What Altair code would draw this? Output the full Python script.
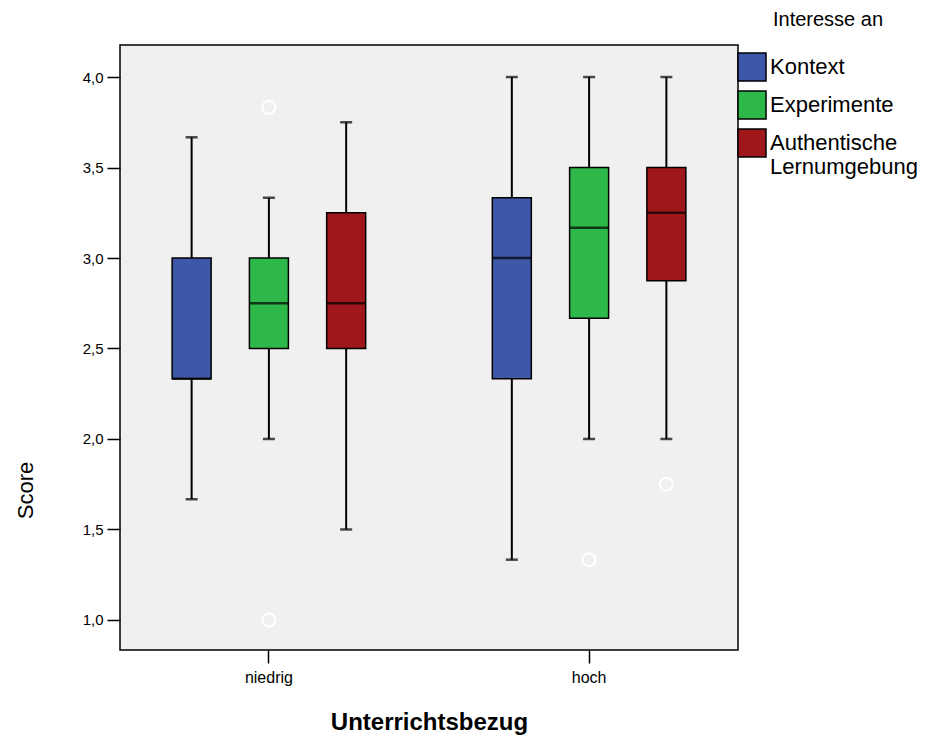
import altair as alt
import pandas as pd

groups = ["niedrig", "niedrig", "niedrig", "hoch", "hoch", "hoch"]
interest = ["Kontext", "Experimente", "Authentische Lernumgebung"] * 2
whisker_low = [1.667, 2.0, 1.5, 1.333, 2.0, 2.0]
q1 = [2.333, 2.5, 2.5, 2.333, 2.667, 2.875]
median = [2.333, 2.75, 2.75, 3.0, 3.167, 3.25]
q3 = [3.0, 3.0, 3.25, 3.333, 3.5, 3.5]
whisker_high = [3.667, 3.333, 3.75, 4.0, 4.0, 4.0]

out_groups = ["niedrig", "niedrig", "hoch", "hoch"]
out_interest = ["Experimente", "Experimente", "Experimente", "Authentische Lernumgebung"]
out_values = [3.833, 1.0, 1.333, 1.75]

group_order = ["niedrig", "hoch"]
interest_order = ["Kontext", "Experimente", "Authentische Lernumgebung"]
colors = ["#3D58A8", "#2FB84A", "#A0171B"]
y_ticks = [1.0, 1.5, 2.0, 2.5, 3.0, 3.5, 4.0]

df = pd.DataFrame({
    "Unterrichtsbezug": groups, "Interesse": interest,
    "lo": whisker_low, "q1": q1, "med": median, "q3": q3, "hi": whisker_high,
})
dfo = pd.DataFrame({"Unterrichtsbezug": out_groups, "Interesse": out_interest, "v": out_values})

FONT = "Liberation Sans"
W, H = 618, 605

x_enc = alt.X("Unterrichtsbezug:N", sort=group_order,
              scale=alt.Scale(paddingInner=0.07, paddingOuter=0),
              axis=alt.Axis(title="Unterrichtsbezug", labelAngle=0, labelFontSize=16,
                            labelFont=FONT, labelColor="black", labelPadding=6,
                            tickSize=13, tickWidth=1.5, tickColor="black",
                            domain=False, titleFont=FONT, titleFontSize=24,
                            titleFontWeight="bold", titleColor="black",
                            titleY=72, titleBaseline="middle"))
xo_enc = alt.XOffset("Interesse:N", sort=interest_order,
                     scale=alt.Scale(paddingInner=0, paddingOuter=0.427))
y_scale = alt.Scale(domain=[0.834, 4.177], nice=False, zero=False)
y_axis = alt.Axis(title="Score", values=y_ticks,
                  labelExpr="replace(format(datum.value, '.1f'), '.', ',')",
                  labelFontSize=15, labelFont=FONT, labelColor="black", labelPadding=4,
                  tickSize=13, tickWidth=1.5, tickColor="black", domain=False, grid=False,
                  titleFont=FONT, titleFontSize=22, titleFontWeight="normal",
                  titleColor="black", titleX=-95, titleY=445, titleAngle=270,
                  titleAlign="center", titleBaseline="middle")
color_enc = alt.Color("Interesse:N", sort=interest_order,
                      scale=alt.Scale(domain=interest_order, range=colors),
                      legend=alt.Legend(title="Interesse an", orient="none",
                                        legendX=617, legendY=-35,
                                        symbolType="square", symbolSize=784,
                                        symbolStrokeColor="black", symbolStrokeWidth=1.5,
                                        symbolOpacity=1,
                                        labelFont=FONT, labelFontSize=22, labelColor="black",
                                        labelExpr="datum.label == 'Authentische Lernumgebung' ? ['Authentische', 'Lernumgebung'] : datum.label",
                                        labelOffset=3, rowPadding=4, labelLimit=300,
                                        titleFont=FONT, titleFontSize=20,
                                        titleFontWeight="normal", titleColor="black",
                                        titlePadding=22, titleAnchor="middle"))

base = alt.Chart(df).encode(x=x_enc, xOffset=xo_enc)

whisk_lo = base.mark_rule(color="black", strokeWidth=2).encode(
    y=alt.Y("lo:Q", scale=y_scale, axis=y_axis), y2="q1:Q")
whisk_hi = base.mark_rule(color="black", strokeWidth=2).encode(
    y=alt.Y("q3:Q", scale=y_scale), y2="hi:Q")
cap_lo = base.mark_tick(color="black", size=12, thickness=2.5).encode(
    y=alt.Y("lo:Q", scale=y_scale))
cap_hi = base.mark_tick(color="black", size=12, thickness=2.5).encode(
    y=alt.Y("hi:Q", scale=y_scale))
boxes = base.mark_bar(size=39, stroke="black", strokeWidth=1.5, opacity=1).encode(
    y=alt.Y("q1:Q", scale=y_scale), y2="q3:Q", color=color_enc)
med = base.mark_tick(color="black", size=39, thickness=2.5).encode(
    y=alt.Y("med:Q", scale=y_scale))
outl = alt.Chart(dfo).mark_point(shape="circle", filled=False, color="white",
                                 strokeWidth=2, size=170, opacity=1).encode(
    x=alt.X("Unterrichtsbezug:N", sort=group_order), xOffset=alt.XOffset("Interesse:N", sort=interest_order),
    y=alt.Y("v:Q", scale=y_scale))

chart = alt.layer(whisk_lo, whisk_hi, cap_lo, cap_hi, boxes, med, outl).properties(
    width=W, height=H,
    autosize=alt.AutoSizeParams(type="none"),
    padding={"left": 112, "top": 37, "right": 195, "bottom": 88},
).configure(background="white").configure_view(fill="#F0F0F0", stroke="black", strokeWidth=1.5)

chart.save("out.html", embed_options={"renderer": "svg", "actions": False})
